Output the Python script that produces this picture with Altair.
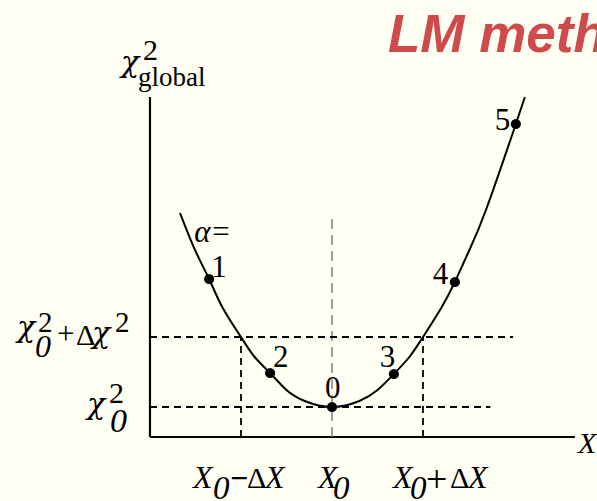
import altair as alt
import pandas as pd

# LM iterations: step label alpha and its position (X, chi2_global)
alpha = ["0", "1", "2", "3", "4", "5"]
alpha_x = [0.00, -1.35, -0.68, 0.68, 1.35, 2.02]
alpha_y = [0.30, 1.58, 0.64, 0.63, 1.55, 3.13]

# chi2_global(X) profile
curve_x = [-1.67, -1.50, -1.35, -1.20, -1.00, -0.85, -0.68, -0.50, -0.30, 0.00,
           0.30, 0.50, 0.68, 0.85, 1.00, 1.20, 1.35, 1.50, 1.70, 2.02, 2.12]
curve_y = [2.24, 1.86, 1.58, 1.29, 1.00, 0.80, 0.64, 0.47, 0.36, 0.30,
           0.36, 0.47, 0.63, 0.80, 1.00, 1.29, 1.55, 1.85, 2.29, 3.13, 3.40]

# levels and interval
x0 = 0.0
dX = 1.0
chi2_min = 0.30
chi2_up = 1.00

# frame of the sketch
axis_x = [-2.0, 2.67]
axis_y_top = 3.40
min_line_end = 1.74
up_line_end = 1.99
center_line_top = 2.24

title_text = "LM method"

W, H = 597, 501
BG = "#fffff3"
SERIF = "Liberation Serif"
GREEK = "DejaVu Serif"

xs = alt.Scale(domain=[-3.648, 2.912], nice=False, zero=False)
ys = alt.Scale(domain=[-0.64, 4.37], nice=False, zero=False)


def enc_xy(ch):
    return ch.encode(
        x=alt.X("x:Q", scale=xs, axis=None),
        y=alt.Y("y:Q", scale=ys, axis=None),
    )


def segs(rows):
    return pd.DataFrame(rows, columns=["x", "x2", "y", "y2"])


def rule_layer(df, **kw):
    return alt.Chart(df).mark_rule(**kw).encode(
        x=alt.X("x:Q", scale=xs, axis=None),
        x2="x2:Q",
        y=alt.Y("y:Q", scale=ys, axis=None),
        y2="y2:Q",
    )


def piece(ax, ay, text, dx, dy, size, italic=False, weight="normal", font=SERIF):
    df = pd.DataFrame({"x": [ax], "y": [ay], "t": [text]})
    ch = alt.Chart(df).mark_text(
        align="left", baseline="alphabetic", dx=dx, dy=dy,
        fontSize=size, font=font, fontWeight=weight,
        fontStyle="italic" if italic else "normal", color="black",
    )
    return enc_xy(ch).encode(text="t:N")


def chi(ax, ay, dx, dy, size=30):
    return piece(ax, ay, "χ", dx, dy, size, italic=True, font=GREEK)


layers = []

# axes
layers.append(rule_layer(segs([
    (axis_x[0], axis_x[0], 0.0, axis_y_top),
    (axis_x[0], axis_x[1], 0.0, 0.0),
]), color="black", strokeWidth=2.2))

# grey centre line at X0
layers.append(rule_layer(segs([(x0, x0, 0.0, center_line_top)]),
                         color="#777777", strokeWidth=1.4, strokeDash=[10, 6]))

# dashed levels and interval bounds
layers.append(rule_layer(segs([
    (axis_x[0], min_line_end, chi2_min, chi2_min),
    (axis_x[0], up_line_end, chi2_up, chi2_up),
    (x0 - dX, x0 - dX, 0.0, chi2_up),
    (x0 + dX, x0 + dX, 0.0, chi2_up),
]), color="black", strokeWidth=1.8, strokeDash=[7, 5]))

# profile curve
curve_df = pd.DataFrame({"x": curve_x, "y": curve_y})
layers.append(enc_xy(alt.Chart(curve_df).mark_line(
    color="black", strokeWidth=2, interpolate="natural")))

# iteration points
pts = pd.DataFrame({"x": alpha_x, "y": alpha_y, "a": alpha})
layers.append(enc_xy(alt.Chart(pts).mark_circle(
    color="black", opacity=1, size=105)))

# point labels
offs = {"0": (-7, -9), "1": (2, -2), "2": (3, -6),
        "3": (-14, -7), "4": (-22, 2), "5": (-21, 6)}
for a, px, py in zip(alpha, alpha_x, alpha_y):
    dx, dy = offs[a]
    layers.append(piece(px, py, a, dx, dy, 31))

# "alpha =" near step 1
layers.append(piece(alpha_x[1], alpha_y[1], "α", -15, -37, 31, italic=True))
layers.append(piece(alpha_x[1], alpha_y[1], "=", 3, -37, 31))

# y axis title chi^2_global
ax0 = axis_x[0]
layers.append(chi(ax0, axis_y_top, -29, -25))
layers.append(piece(ax0, axis_y_top, "2", -7, -37, 30))
layers.append(piece(ax0, axis_y_top, "global", -12, -11, 27))

# chi0^2 + dchi^2
layers.append(chi(ax0, chi2_up, -133, 0))
layers.append(piece(ax0, chi2_up, "0", -115, 20, 32, italic=True))
layers.append(piece(ax0, chi2_up, "2", -112, -5, 29))
layers.append(piece(ax0, chi2_up, "+", -93, 7, 31))
layers.append(piece(ax0, chi2_up, "Δ", -74, 8, 30))
layers.append(chi(ax0, chi2_up, -58, 6))
layers.append(piece(ax0, chi2_up, "2", -35, -5, 29))

# chi0^2
layers.append(chi(ax0, chi2_min, -63, 7))
layers.append(piece(ax0, chi2_min, "2", -41, -4, 30))
layers.append(piece(ax0, chi2_min, "0", -40, 25, 34, italic=True))

# X tick labels
xl, xc, xr = x0 - dX, x0, x0 + dX
layers.append(piece(xl, 0.0, "X", -48, 51, 32, italic=True))
layers.append(piece(xl, 0.0, "0", -28, 62, 33, italic=True))
layers.append(piece(xl, 0.0, "−", -11, 52, 32, weight="bold"))
layers.append(piece(xl, 0.0, "Δ", 6, 51, 30))
layers.append(piece(xl, 0.0, "X", 24, 51, 32, italic=True))

layers.append(piece(xc, 0.0, "X", -14, 51, 32, italic=True))
layers.append(piece(xc, 0.0, "0", 1, 62, 33, italic=True))

layers.append(piece(xr, 0.0, "X", -30, 51, 32, italic=True))
layers.append(piece(xr, 0.0, "0", -13, 62, 33, italic=True))
layers.append(piece(xr, 0.0, "+", 3, 55, 38))
layers.append(piece(xr, 0.0, "Δ", 27, 51, 30))
layers.append(piece(xr, 0.0, "X", 45, 51, 32, italic=True))

# x axis name at the end of the axis
layers.append(piece(axis_x[1], 0.0, "X", 3, 16, 30, italic=True))

# heading
layers.append(alt.Chart(pd.DataFrame({"t": [title_text]})).mark_text(
    align="left", baseline="alphabetic", font="Liberation Sans",
    fontSize=53, fontWeight="bold", fontStyle="italic", color="#cf4b4b",
).encode(x=alt.value(388), y=alt.value(52), text="t:N"))

chart = alt.layer(*layers).properties(
    width=W, height=H,
    autosize=alt.AutoSizeParams(type="none"),
    padding=0,
    background=BG,
).configure_view(stroke=None)

chart.save("out.html", embed_options={"renderer": "svg", "actions": False})
